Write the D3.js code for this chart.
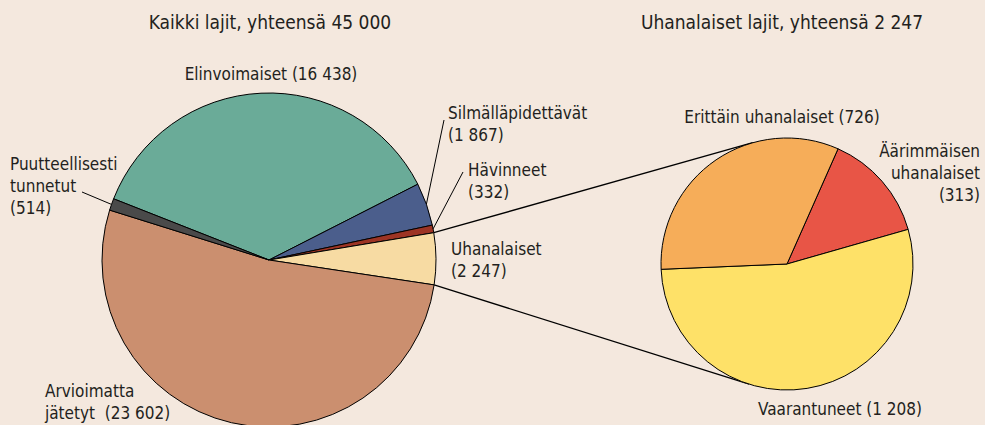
<!DOCTYPE html>
<html>
<head>
<meta charset="utf-8">
<script src="https://cdn.jsdelivr.net/npm/d3@7"></script>
<style>
  html, body { margin: 0; padding: 0; background: #f4e8de; }
  svg { display: block; }
  text { font-family: 'Liberation Sans Narrow', 'Arial Narrow', 'DejaVu Sans Condensed', sans-serif; fill: #231f20; }
</style>
</head>
<body>
<svg id="chart" width="985" height="425"></svg>
<script>
// all species
var allNames = ['Elinvoimaiset', 'Silmälläpidettävät', 'Hävinneet', 'Uhanalaiset', 'Arvioimatta jätetyt', 'Puutteellisesti tunnetut'];
var allValues = [16438, 1867, 332, 2247, 23602, 514];
var allTitle = 'Kaikki lajit, yhteensä 45 000';

// threatened species
var threatNames = ['Äärimmäisen uhanalaiset', 'Vaarantuneet', 'Erittäin uhanalaiset'];
var threatValues = [313, 1208, 726];
var threatTitle = 'Uhanalaiset lajit, yhteensä 2 247';

var fmt = function(v) { return d3.format(',')(v).replace(/,/g, ' '); };

var svg = d3.select('#chart');
var deg = Math.PI / 180;

var allColors = ['#6aab98', '#4b5e8c', '#9d3424', '#f7dba3', '#cb8f6f', '#4a4a4a'];
var threatColors = ['#e85546', '#fee168', '#f6ad59'];

var left = { cx: 269, cy: 260, r: 167 },
	right = { cx: 787, cy: 264, r: 126 };

var pieAll = d3.pie().sort(null).startAngle(-68.5 * deg).endAngle(291.5 * deg);
var pieThreat = d3.pie().sort(null).startAngle(23.9 * deg).endAngle(383.9 * deg);

var arcsAll = pieAll(allValues),
	arcsThreat = pieThreat(threatValues);

var arcL = d3.arc().innerRadius(0).outerRadius(left.r);
var arcR = d3.arc().innerRadius(0).outerRadius(right.r);

// point on circle for a d3 angle (clockwise from 12 o'clock)
function onCircle(c, a) {
	return [c.cx + c.r * Math.sin(a), c.cy - c.r * Math.cos(a)];
}

// tangent point from p to circle c; side = 1 upper, -1 lower
function tangent(p, c, side) {
	var dx = p[0] - c.cx, dy = p[1] - c.cy, d = Math.sqrt(dx * dx + dy * dy);
	var base = Math.atan2(dy, dx), off = Math.acos(c.r / d);
	var a = base + side * off;
	return [c.cx + c.r * Math.cos(a), c.cy + c.r * Math.sin(a)];
}

// connector lines between the threatened slice and the second pie
var uh = arcsAll[3];
var pTop = onCircle(left, uh.startAngle), pBot = onCircle(left, uh.endAngle);
var conn = svg.append('g');
[[pTop, tangent(pTop, right, 1)], [pBot, tangent(pBot, right, -1)]].forEach(function(s) {
	conn.append('line')
		.attr('x1', s[0][0]).attr('y1', s[0][1])
		.attr('x2', s[1][0]).attr('y2', s[1][1])
		.attr('stroke', '#000').attr('stroke-width', 1.3);
});

var gL = svg.append('g').attr('transform', 'translate(' + left.cx + ',' + left.cy + ')');
gL.selectAll('path').data(arcsAll).enter().append('path')
	.attr('d', arcL)
	.attr('fill', function(d, i) { return allColors[i]; })
	.attr('stroke', '#000').attr('stroke-width', 1).attr('stroke-linejoin', 'round');

var gR = svg.append('g').attr('transform', 'translate(' + right.cx + ',' + right.cy + ')');
gR.selectAll('path').data(arcsThreat).enter().append('path')
	.attr('d', arcR)
	.attr('fill', function(d, i) { return threatColors[i]; })
	.attr('stroke', '#000').attr('stroke-width', 1).attr('stroke-linejoin', 'round');

// titles
svg.append('text').attr('x', 270).attr('y', 29).attr('text-anchor', 'middle').attr('font-size', 19).text(allTitle);
svg.append('text').attr('x', 782).attr('y', 29).attr('text-anchor', 'middle').attr('font-size', 19).text(threatTitle);

// label layout: lines, anchor, x, first baseline, leader end (optional)
var fs = 17, lh = 22;
var allLayout = [
	{ lines: [allNames[0] + ' (' + fmt(allValues[0]) + ')'], anchor: 'middle', x: 271, y: 80 },
	{ lines: [allNames[1], '(' + fmt(allValues[1]) + ')'], anchor: 'start', x: 448, y: 119, lead: [444, 120] },
	{ lines: [allNames[2], '(' + fmt(allValues[2]) + ')'], anchor: 'start', x: 468, y: 176, lead: [463, 172] },
	{ lines: [allNames[3], '(' + fmt(allValues[3]) + ')'], anchor: 'start', x: 451, y: 255 },
	{ lines: ['Arvioimatta', 'jätetyt\u00a0\u00a0(' + fmt(allValues[4]) + ')'], anchor: 'start', x: 45, y: 397 },
	{ lines: ['Puutteellisesti', 'tunnetut', '(' + fmt(allValues[5]) + ')'], anchor: 'start', x: 10, y: 170, lead: [82, 192] }
];
var threatLayout = [
	{ lines: ['Äärimmäisen', 'uhanalaiset', '(' + fmt(threatValues[0]) + ')'], anchor: 'end', x: 980, y: 157 },
	{ lines: [threatNames[1] + ' (' + fmt(threatValues[1]) + ')'], anchor: 'middle', x: 840, y: 415 },
	{ lines: [threatNames[2] + ' (' + fmt(threatValues[2]) + ')'], anchor: 'middle', x: 782, y: 123 }
];

function drawLabels(layout, arcs, c) {
	layout.forEach(function(l, i) {
		if (l.lead) {
			var a = (arcs[i].startAngle + arcs[i].endAngle) / 2;
			var p = onCircle(c, a);
			svg.append('line')
				.attr('x1', p[0]).attr('y1', p[1]).attr('x2', l.lead[0]).attr('y2', l.lead[1])
				.attr('stroke', '#000').attr('stroke-width', 1);
		}
		var t = svg.append('text').attr('text-anchor', l.anchor).attr('font-size', fs);
		l.lines.forEach(function(s, j) {
			t.append('tspan').attr('x', l.x).attr('y', l.y + j * lh).text(s);
		});
	});
}
drawLabels(allLayout, arcsAll, left);
drawLabels(threatLayout, arcsThreat, right);
</script>
</body>
</html>
